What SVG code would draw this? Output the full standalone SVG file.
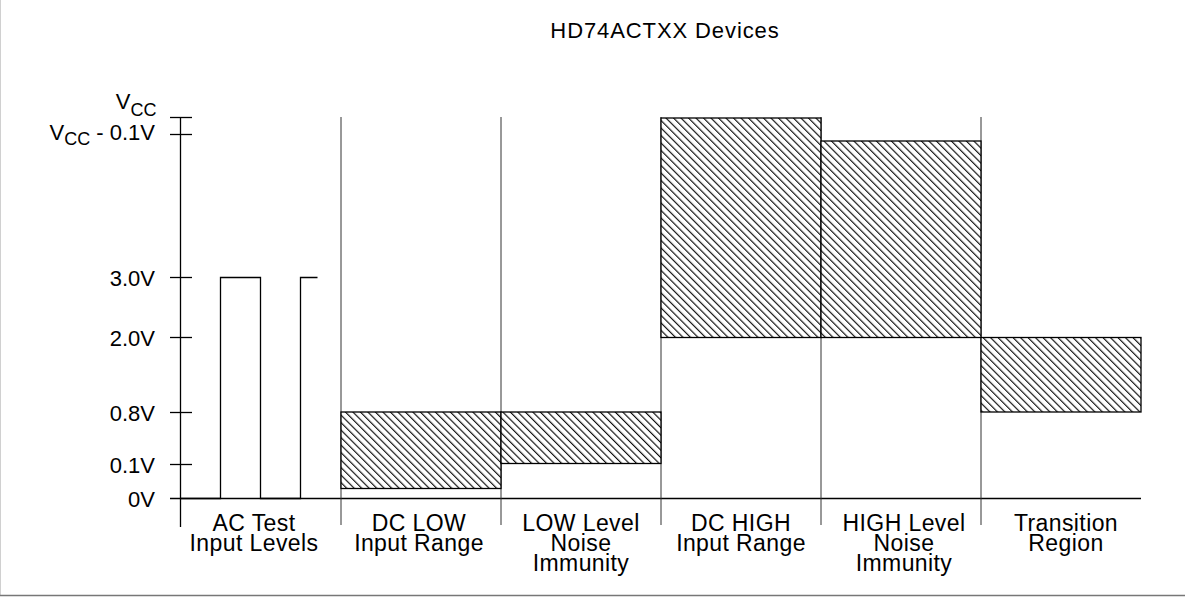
<svg xmlns="http://www.w3.org/2000/svg" width="1185" height="597" viewBox="0 0 1185 597">
<style>
text{font-family:"Liberation Sans",Arial,sans-serif;font-size:22px;fill:#000}
.lab{text-anchor:middle;font-size:23px;letter-spacing:0.4px}
.yl{text-anchor:end}
.sub{font-size:18px}
.ax{stroke:#000;stroke-width:1.3;fill:none}
.div{stroke:#333;stroke-width:1;fill:none}
.box{stroke:#000;stroke-width:1.3;fill:url(#hatch)}
</style>
<defs>
<pattern id="hatch" patternUnits="userSpaceOnUse" width="5.3" height="10" patternTransform="rotate(-45)">
<rect width="5.3" height="10" fill="#fff"/>
<line x1="0.6" y1="0" x2="0.6" y2="10" stroke="#000" stroke-width="1.1"/>
</pattern>
</defs>
<rect width="1185" height="597" fill="#fff"/>
<line x1="0.5" y1="0" x2="0.5" y2="596" stroke="#d0d0d0" stroke-width="1"/>
<line x1="0" y1="595.5" x2="1185" y2="595.5" stroke="#777" stroke-width="1.5"/>

<text id="title" x="665" y="38" text-anchor="middle" font-size="23" letter-spacing="0.9">HD74ACTXX Devices</text>

<g id="axis">
<line class="ax" x1="180.5" y1="117" x2="180.5" y2="527"/>
<line class="ax" x1="170" y1="117.5" x2="192" y2="117.5"/>
<line class="ax" x1="170" y1="134.5" x2="192" y2="134.5"/>
<line class="ax" x1="170" y1="277.5" x2="192" y2="277.5"/>
<line class="ax" x1="170" y1="337.5" x2="192" y2="337.5"/>
<line class="ax" x1="170" y1="412.5" x2="192" y2="412.5"/>
<line class="ax" x1="170" y1="464.5" x2="192" y2="464.5"/>
<line class="ax" x1="170" y1="498.5" x2="1141" y2="498.5"/>
<text class="yl" x="156.5" y="109">V<tspan class="sub" dy="7">CC</tspan></text>
<text class="yl" x="155" y="140">V<tspan class="sub" dy="5">CC</tspan><tspan dy="-5"> - 0.1V</tspan></text>
<text class="yl" x="155" y="285.5">3.0V</text>
<text class="yl" x="155" y="345.5">2.0V</text>
<text class="yl" x="155" y="420.5">0.8V</text>
<text class="yl" x="155" y="472.5">0.1V</text>
<text class="yl" x="155" y="506.5">0V</text>
</g>

<g id="connectors">
<line class="div" x1="341" y1="117" x2="341" y2="525"/>
<line class="div" x1="501" y1="117" x2="501" y2="525"/>
<line class="div" x1="661" y1="117" x2="661" y2="525"/>
<line class="div" x1="821" y1="117" x2="821" y2="525"/>
<line class="div" x1="981" y1="117" x2="981" y2="525"/>
</g>

<g id="ac-test">
<polyline class="ax" points="180.5,498.5 220.5,498.5 220.5,277.5 260.5,277.5 260.5,498.5 300.5,498.5 300.5,277.5 317.5,277.5"/>
<text class="lab" x="254" y="531">AC Test<tspan x="254" dy="20">Input Levels</tspan></text>
</g>

<g id="dc-low">
<rect class="box" x="341" y="412" width="160" height="76.5"/>
<text class="lab" x="419" y="531">DC LOW<tspan x="419" dy="20">Input Range</tspan></text>
</g>

<g id="low-noise">
<rect class="box" x="501" y="412" width="160" height="51.5"/>
<text class="lab" x="581" y="531">LOW Level<tspan x="581" dy="20">Noise</tspan><tspan x="581" dy="20">Immunity</tspan></text>
</g>

<g id="dc-high">
<rect class="box" x="661" y="118" width="160" height="219.5"/>
<text class="lab" x="741" y="531">DC HIGH<tspan x="741" dy="20">Input Range</tspan></text>
</g>

<g id="high-noise">
<rect class="box" x="821" y="141" width="160" height="196.5"/>
<text class="lab" x="904" y="531">HIGH Level<tspan x="904" dy="20">Noise</tspan><tspan x="904" dy="20">Immunity</tspan></text>
</g>

<g id="transition">
<rect class="box" x="981" y="337.5" width="160" height="74.5"/>
<text class="lab" x="1066" y="531">Transition<tspan x="1066" dy="20">Region</tspan></text>
</g>
</svg>
